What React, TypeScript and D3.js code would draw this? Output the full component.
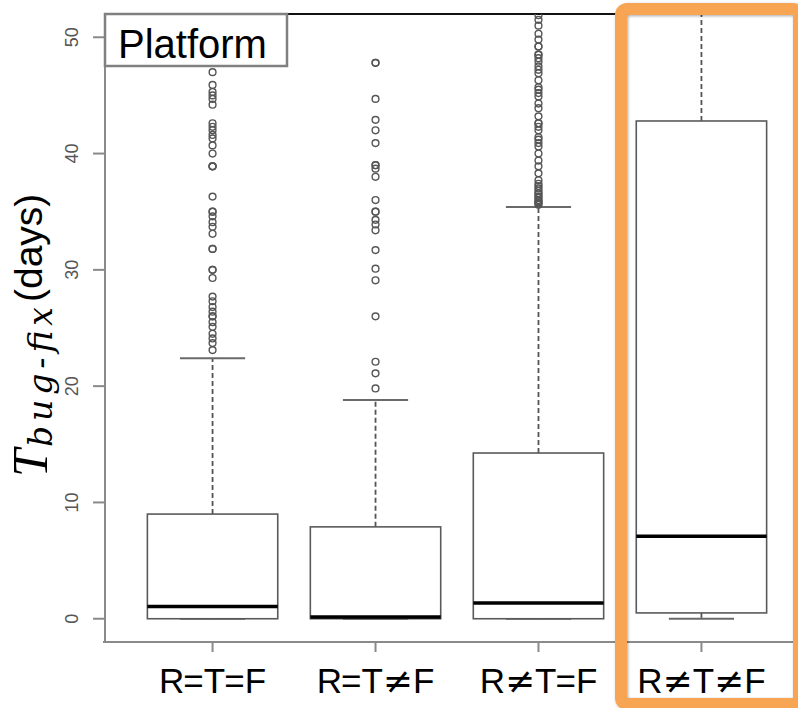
import React from "react";
import * as d3 from "d3";

const categories = ["R=T=F", "R=T≠F", "R≠T=F", "R≠T≠F"];
const q1 = [0, 0, 0, 0.5];
const medians = [1.05, 0.15, 1.35, 7.1];
const q3 = [9.0, 7.9, 14.25, 42.8];
const whiskerLow = [0, 0, 0, 0];
const whiskerHigh = [22.4, 18.8, 35.4, 60];

const outliers1 = [47.0, 45.9, 45.3, 45.0, 44.7, 44.2, 42.6, 42.3, 42.0, 41.6, 41.3, 40.7, 40.0, 38.9, 38.9, 38.9,
  36.3, 35.0, 35.0, 34.6, 34.1, 33.7, 33.1, 31.8, 31.8, 30.0, 30.0, 29.3, 27.7, 27.3, 26.8, 26.4, 26.0, 26.0,
  25.5, 25.1, 24.5, 24.1, 23.7, 23.1];
const outliers2 = [47.8, 47.8, 44.7, 42.9, 42.0, 40.9, 39.0, 39.0, 38.7, 38.0, 36.0, 35.0, 35.0, 34.3, 33.9, 33.4,
  31.7, 30.1, 29.1, 26.0, 22.1, 21.1, 19.8];
const outliers3 = [51.9, 51.5, 51.0, 50.3, 49.8, 49.2, 49.2, 48.5, 48.5, 48.2, 47.9, 47.5, 47.2, 46.9, 46.3, 45.7,
  45.5, 45.2, 44.9, 44.3, 43.9, 43.2, 42.6, 42.6, 42.3, 42.0, 41.4, 41.2, 40.9, 40.6, 40.0, 39.4, 38.9, 38.3,
  37.7, 37.4, 37.2, 37.0, 36.8, 36.6, 36.5, 36.3, 36.2, 36.0, 35.9, 35.8, 35.7, 35.6];
const outliers4: number[] = [];
const outliers = [outliers1, outliers2, outliers3, outliers4];

const yTicks = [0, 10, 20, 30, 40, 50];
const title = "Platform";

function Label({ text, cx }: { text: string; cx: number }) {
  const parts = text.split("");
  return (
    <text x={cx} y={693} textAnchor="middle" fontSize={35} fill="#000">
      {parts.map((p, i) =>
        p === "≠" ? (
          <tspan key={i} fontFamily="'DejaVu Sans', sans-serif" fontSize={36}>{p}</tspan>
        ) : p === "=" ? (
          <tspan key={i} dx={-1} dy={0}>{p}</tspan>
        ) : (
          <tspan key={i}>{p}</tspan>
        )
      )}
    </text>
  );
}

export default function App() {
  const left = 105, top = 14, bottom = 642, right = 809;
  const y = d3.scaleLinear().domain([-2, 52]).range([bottom, top]);
  const x = d3.scaleLinear().domain([0.34, 4.66]).range([left, right]);
  const bw = (x(1.8) - x(1)) / 2;
  const cap = bw / 2;
  const gray = "#5a5a5a";

  return (
    <svg width={798} height={708} style={{ position: "fixed", left: 0, top: 0, background: "#fff" }}
      fontFamily="'Liberation Sans', Arial, sans-serif">
      <defs>
        <clipPath id="plotclip">
          <rect x={left} y={top} width={right - left} height={bottom - top} />
        </clipPath>
        <filter id="shadow" x="-5%" y="-5%" width="110%" height="110%">
          <feDropShadow dx="1" dy="1" stdDeviation="1.5" floodColor="#000" floodOpacity="0.35" />
        </filter>
      </defs>
      <rect x={0} y={0} width={798} height={708} fill="#fff" />

      {/* top frame line */}
      <line x1={left} x2={798} y1={top} y2={top} stroke="#111" strokeWidth={2} />

      <g clipPath="url(#plotclip)">
        {categories.map((c, i) => {
          const cx = x(i + 1);
          return (
            <g key={c}>
              <line x1={cx} x2={cx} y1={y(q3[i])} y2={y(whiskerHigh[i])} stroke="#555" strokeWidth={1.8} strokeDasharray="5,3" />
              <line x1={cx} x2={cx} y1={y(q1[i])} y2={y(whiskerLow[i])} stroke="#555" strokeWidth={1.8} strokeDasharray="5,3" />
              <line x1={cx - cap} x2={cx + cap} y1={y(whiskerHigh[i])} y2={y(whiskerHigh[i])} stroke="#6a6a6a" strokeWidth={2} />
              <line x1={cx - cap} x2={cx + cap} y1={y(whiskerLow[i])} y2={y(whiskerLow[i])} stroke="#6a6a6a" strokeWidth={2} />
              <rect x={cx - bw} y={y(q3[i])} width={2 * bw} height={y(q1[i]) - y(q3[i])} fill="#fff" stroke={gray} strokeWidth={1.6} />
              <line x1={cx - bw} x2={cx + bw} y1={y(medians[i])} y2={y(medians[i])} stroke="#000" strokeWidth={3.5} />
              {outliers[i].map((v, j) => (
                <circle key={j} cx={cx} cy={y(v)} r={3.4} fill="none" stroke="#555" strokeWidth={1.4} />
              ))}
            </g>
          );
        })}
      </g>

      {/* axes */}
      <line x1={left} x2={left} y1={top} y2={bottom} stroke="#8a8a8a" strokeWidth={2} />
      <line x1={left - 2} x2={798} y1={bottom} y2={bottom} stroke="#8a8a8a" strokeWidth={2} />
      {yTicks.map((t) => (
        <g key={t}>
          <line x1={left - 12} x2={left} y1={y(t)} y2={y(t)} stroke="#8a8a8a" strokeWidth={2} />
          <text transform={`translate(78,${y(t)}) rotate(-90)`} textAnchor="middle" fontSize={18} fill="#555">{t}</text>
        </g>
      ))}
      {categories.map((c, i) => (
        <g key={c}>
          <line x1={x(i + 1)} x2={x(i + 1)} y1={bottom} y2={bottom + 10} stroke="#8a8a8a" strokeWidth={2} />
          <Label text={c} cx={x(i + 1)} />
        </g>
      ))}

      {/* y axis label */}
      <text transform="translate(47,477) rotate(-90)" fontFamily="'Liberation Serif', 'DejaVu Serif', serif"
        fontStyle="italic" fontSize={50} fill="#000">T</text>
      <text transform="translate(52,447) rotate(-90)" fontFamily="'DejaVu Serif', serif"
        fontStyle="italic" fontSize={33} fill="#000" textLength={140} lengthAdjust="spacing">bug-fix</text>
      <text transform="translate(42,302) rotate(-90)" fontSize={39} fill="#000">(days)</text>

      {/* title box */}
      <rect x={left} y={top} width={182} height={52} fill="#fff" stroke="#808080" strokeWidth={2.5} />
      <text x={118} y={58} fontSize={40} fill="#000">{title}</text>

      {/* highlight */}
      <rect x={621} y={9} width={178} height={695} rx={6} fill="none" stroke="#f8a553" strokeWidth={12} filter="url(#shadow)" />
    </svg>
  );
}
